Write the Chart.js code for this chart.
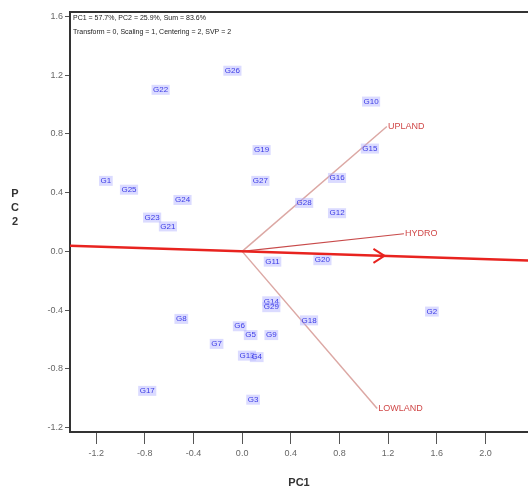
<!DOCTYPE html>
<html>
<head>
<meta charset="utf-8">
<script src="https://cdn.jsdelivr.net/npm/chart.js@4.4.1/dist/chart.umd.min.js"></script>
<style>
  html, body { margin: 0; padding: 0; background: #fff; }
  #wrap { width: 528px; height: 494px; }
</style>
</head>
<body>
<div id="wrap"><canvas id="biplot" width="528" height="494"></canvas></div>
<script>
// genotype scores (PC1, PC2)
const genoNames = ['G26', 'G22', 'G10', 'G19', 'G15', 'G1', 'G25', 'G27', 'G16', 'G24',
    'G28', 'G12', 'G23', 'G21', 'G11', 'G20', 'G14', 'G29', 'G18', 'G2',
    'G8', 'G6', 'G5', 'G9', 'G7', 'G13', 'G4', 'G17', 'G3'];
const genoPC1 = [-0.08, -0.67, 1.06, 0.16, 1.05, -1.12, -0.93, 0.15, 0.78, -0.49,
    0.51, 0.78, -0.74, -0.61, 0.25, 0.66, 0.24, 0.24, 0.55, 1.56,
    -0.50, -0.02, 0.07, 0.24, -0.21, 0.04, 0.12, -0.78, 0.09];
const genoPC2 = [1.23, 1.10, 1.02, 0.69, 0.70, 0.48, 0.42, 0.48, 0.50, 0.35,
    0.33, 0.26, 0.23, 0.17, -0.07, -0.06, -0.34, -0.38, -0.47, -0.41,
    -0.46, -0.51, -0.57, -0.57, -0.63, -0.71, -0.72, -0.95, -1.01];

// environment vectors
const envNames = ['UPLAND', 'HYDRO', 'LOWLAND'];
const envPC1 = [1.19, 1.33, 1.11];
const envPC2 = [0.85, 0.12, -1.07];

// average environment axis
const aecPC1 = [-1.42, 2.36];
const aecPC2 = [0.038, -0.062];
const aecArrowPC1 = 1.17;

const xTicks = [-1.2, -0.8, -0.4, 0.0, 0.4, 0.8, 1.2, 1.6, 2.0];
const yTicks = [-1.2, -0.8, -0.4, 0.0, 0.4, 0.8, 1.2, 1.6];

const infoLines = [
    'PC1 = 57.7%, PC2 = 25.9%, Sum = 83.6%',
    'Transform = 0, Scaling = 1, Centering = 2, SVP = 2',
];

const FONT = '"Liberation Sans", Arial, sans-serif';

const datasets = [];

datasets.push({
    label: 'aec',
    data: aecPC1.map((x, i) => ({ x, y: aecPC2[i] })),
    showLine: true,
    borderColor: '#e8231f',
    borderWidth: 2.5,
    pointRadius: 0,
});

envNames.forEach((name, i) => {
    datasets.push({
        label: name,
        data: [{ x: 0, y: 0 }, { x: envPC1[i], y: envPC2[i] }],
        showLine: true,
        borderColor: name === 'HYDRO' ? '#c84a4a' : '#dca8a4',
        borderWidth: name === 'HYDRO' ? 1.2 : 1.5,
        pointRadius: 0,
    });
});

datasets.push({
    label: 'genotypes',
    data: genoPC1.map((x, i) => ({ x, y: genoPC2[i] })),
    pointRadius: 0,
    showLine: false,
});

const biplotDecor = {
    id: 'biplotDecor',
    afterDatasetsDraw: (chart) => {
        const ctx = chart.ctx;
        const xs = chart.scales.x;
        const ys = chart.scales.y;
        const area = chart.chartArea;

        ctx.save();

        // top frame line
        ctx.strokeStyle = '#333';
        ctx.lineWidth = 2;
        ctx.beginPath();
        ctx.moveTo(area.left - 1, area.top);
        ctx.lineTo(area.right, area.top);
        ctx.stroke();

        // arrow head on average environment axis
        const slope = (aecPC2[1] - aecPC2[0]) / (aecPC1[1] - aecPC1[0]);
        const ay = aecPC2[0] + slope * (aecArrowPC1 - aecPC1[0]);
        const px = xs.getPixelForValue(aecArrowPC1);
        const py = ys.getPixelForValue(ay);
        ctx.strokeStyle = '#e8231f';
        ctx.lineWidth = 2;
        ctx.beginPath();
        ctx.moveTo(px - 11, py - 7);
        ctx.lineTo(px, py);
        ctx.lineTo(px - 11, py + 7);
        ctx.stroke();

        // environment labels
        ctx.font = '9px ' + FONT;
        ctx.fillStyle = '#d04848';
        ctx.textAlign = 'left';
        ctx.textBaseline = 'middle';
        envNames.forEach((name, i) => {
            const ex = xs.getPixelForValue(envPC1[i]);
            const ey = ys.getPixelForValue(envPC2[i]);
            ctx.fillText(name, ex + 1, ey);
        });

        // genotype labels
        ctx.font = '8px ' + FONT;
        ctx.textAlign = 'center';
        genoNames.forEach((name, i) => {
            const gx = xs.getPixelForValue(genoPC1[i]);
            const gy = ys.getPixelForValue(genoPC2[i]);
            const w = ctx.measureText(name).width + 3;
            ctx.fillStyle = 'rgba(175, 175, 255, 0.45)';
            ctx.fillRect(gx - w / 2, gy - 5, w, 10);
            ctx.fillStyle = '#3b3be6';
            ctx.fillText(name, gx, gy);
        });

        // info text
        ctx.font = '7px ' + FONT;
        ctx.fillStyle = '#222';
        ctx.textAlign = 'left';
        infoLines.forEach((line, i) => {
            ctx.fillText(line, area.left + 3, area.top + 6 + i * 14);
        });

        // stacked y title
        ctx.font = 'bold 11px ' + FONT;
        ctx.fillStyle = '#333';
        ctx.textAlign = 'center';
        ['P', 'C', '2'].forEach((ch, i) => {
            ctx.fillText(ch, 15, 194 + i * 14);
        });

        ctx.restore();
    },
};

const tickFont = { family: FONT, size: 9 };

new Chart(document.getElementById('biplot').getContext('2d'), {
    type: 'scatter',
    data: { datasets },
    options: {
        responsive: false,
        animation: false,
        layout: { padding: { top: 12, right: 0, left: 0, bottom: 0 } },
        plugins: {
            legend: { display: false },
            tooltip: { enabled: false },
        },
        scales: {
            x: {
                type: 'linear',
                min: -1.415,
                max: 2.35,
                afterBuildTicks: (scale) => {
                    scale.ticks = xTicks.map((v) => ({ value: v }));
                },
                afterFit: (scale) => {
                    scale.height = 62;
                },
                grid: { drawOnChartArea: false, drawTicks: true, tickLength: 12, color: '#555', lineWidth: 1 },
                border: { display: true, color: '#333', width: 2 },
                ticks: {
                    font: tickFont,
                    color: '#666',
                    padding: 4,
                    maxRotation: 0,
                    callback: (v) => v.toFixed(1),
                },
                title: {
                    display: true,
                    text: 'PC1',
                    color: '#333',
                    font: { family: FONT, size: 11, weight: 'bold' },
                    padding: { top: 8 },
                },
            },
            y: {
                type: 'linear',
                min: -1.23,
                max: 1.63,
                afterBuildTicks: (scale) => {
                    scale.ticks = yTicks.map((v) => ({ value: v }));
                },
                afterFit: (scale) => {
                    scale.width = 70;
                },
                grid: { drawOnChartArea: false, drawTicks: true, tickLength: 5, color: '#555', lineWidth: 1 },
                border: { display: true, color: '#333', width: 2 },
                ticks: {
                    font: tickFont,
                    color: '#666',
                    padding: 2,
                    callback: (v) => v.toFixed(1),
                },
            },
        },
    },
    plugins: [biplotDecor],
});
</script>
</body>
</html>
